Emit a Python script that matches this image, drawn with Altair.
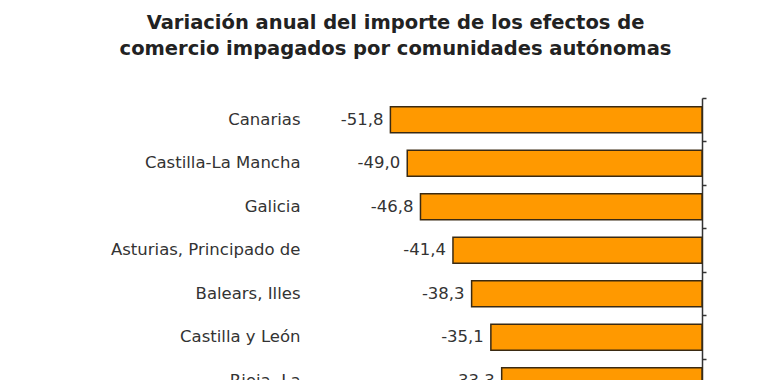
import altair as alt
import pandas as pd

regions = ["Canarias", "Castilla-La Mancha", "Galicia", "Asturias, Principado de",
           "Balears, Illes", "Castilla y León", "Rioja, La"]
values = [-51.8, -49.0, -46.8, -41.4, -38.3, -35.1, -33.3]
labels = ["-51,8", "-49,0", "-46,8", "-41,4", "-38,3", "-35,1", "-33,3"]
title_lines = ["Variación anual del importe de los efectos de",
               "comercio impagados por comunidades autónomas"]

df = pd.DataFrame({"region": regions, "value": values, "label": labels})

FONT = "DejaVu Sans"
STEP = 43.5
RANGE = STEP * len(regions)
W = 391
H = 282

yscale = alt.Scale(paddingInner=0, paddingOuter=0, range=[0, RANGE])
x = alt.X("value:Q", scale=alt.Scale(domain=[-65, 0], nice=False, zero=False), axis=None)

bars = alt.Chart(df).mark_bar(
    height={"band": 0.6}, fill="#FF9900", stroke="#3a2a12", strokeWidth=1.5
).encode(
    x=x,
    y=alt.Y("region:N", sort=regions, scale=yscale,
            axis=alt.Axis(title=None, orient="left", domain=False, ticks=False,
                          labelPadding=11, labelFontSize=16.5, labelFont=FONT,
                          labelColor="#333333", labelLimit=400)),
)

text = alt.Chart(df).mark_text(
    align="right", baseline="middle", dx=-7, fontSize=16.5, font=FONT, color="#333333"
).encode(
    x=x,
    y=alt.Y("region:N", sort=regions, scale=yscale, axis=None),
    text="label:N",
)

axis_layer = alt.Chart(df).mark_tick(opacity=0).encode(
    x=alt.X("value:Q", scale=alt.Scale(domain=[-65, 0], nice=False, zero=False), axis=None),
    y=alt.Y("region:N", sort=regions, scale=yscale,
            axis=alt.Axis(title=None, orient="right", labels=False, domain=True,
                          domainColor="#333333", domainWidth=1.5, ticks=True,
                          tickSize=4, tickColor="#333333", tickWidth=1.5,
                          bandPosition=0)),
)

chart = alt.layer(bars, text, axis_layer).resolve_axis(y="independent").properties(
    width=W,
    height=H,
    autosize=alt.AutoSizeParams(type="none"),
    padding={"left": 303, "top": 90, "right": 60, "bottom": 0},
    background="white",
    title=alt.TitleParams(
        text=title_lines, fontSize=19.5, font=FONT, fontWeight="bold", color="#222222",
        anchor="middle", frame="group", dx=-111, offset=38, lineHeight=26,
    ),
).configure_view(stroke=None)

chart.save("out.html", embed_options={"renderer": "svg", "actions": False})
